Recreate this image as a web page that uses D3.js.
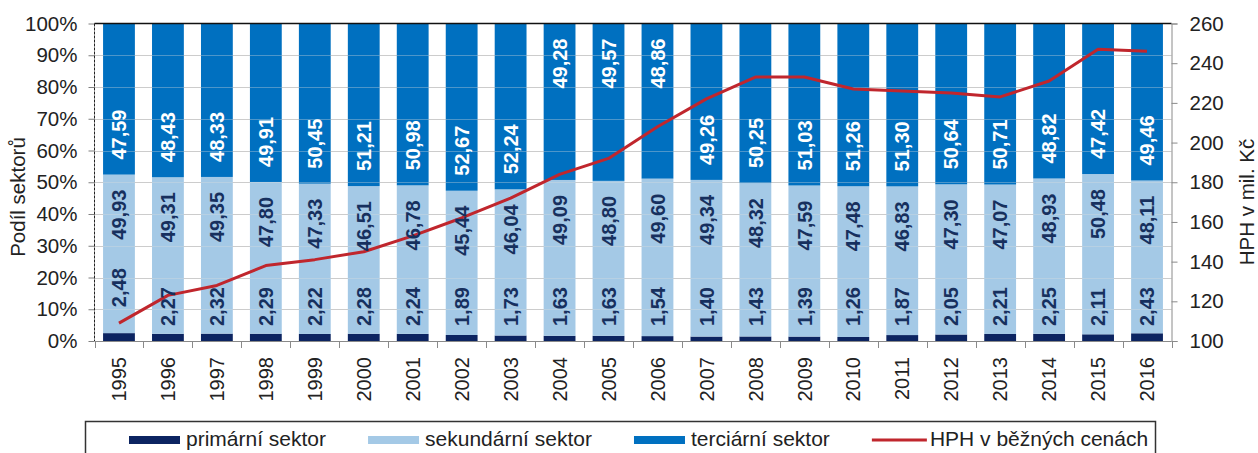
<!DOCTYPE html>
<html>
<head>
<meta charset="utf-8">
<script src="https://cdn.jsdelivr.net/npm/d3@7"></script>
<style>
  body { margin: 0; background: #fff; }
  svg { display: block; font-family: "Liberation Sans", Arial, sans-serif; }
</style>
</head>
<body>
<svg id="chart" width="1258" height="453"></svg>
<script>
const years = ['1995', '1996', '1997', '1998', '1999', '2000', '2001', '2002', '2003', '2004', '2005',
  '2006', '2007', '2008', '2009', '2010', '2011', '2012', '2013', '2014', '2015', '2016'];
const primary = [2.48, 2.27, 2.32, 2.29, 2.22, 2.28, 2.24, 1.89, 1.73, 1.63, 1.63,
  1.54, 1.40, 1.43, 1.39, 1.26, 1.87, 2.05, 2.21, 2.25, 2.11, 2.43];
const secondary = [49.93, 49.31, 49.35, 47.80, 47.33, 46.51, 46.78, 45.44, 46.04, 49.09, 48.80,
  49.60, 49.34, 48.32, 47.59, 47.48, 46.83, 47.30, 47.07, 48.93, 50.48, 48.11];
const tertiary = [47.59, 48.43, 48.33, 49.91, 50.45, 51.21, 50.98, 52.67, 52.24, 49.28, 49.57,
  48.86, 49.26, 50.25, 51.03, 51.26, 51.30, 50.64, 50.71, 48.82, 47.42, 49.46];
const hph = [109, 123, 128, 138, 141, 145, 153, 162, 172, 184, 192,
  208, 222, 233, 233, 227, 226, 225, 223, 231, 247, 246];
const leftTicks = [0, 10, 20, 30, 40, 50, 60, 70, 80, 90, 100];
const rightTicks = [100, 120, 140, 160, 180, 200, 220, 240, 260];
const seriesNames = ['primární sektor', 'sekundární sektor', 'terciární sektor'];
const lineName = 'HPH v běžných cenách';

const colors = ['#0c2461', '#a4c9e6', '#0070c0'];
const labelColors = ['#17305e', '#17305e', '#ffffff'];
const lineColor = '#c0262d';

const svg = d3.select('#chart');
const plotLeft = 94.5;
const plotRight = 1171.5;
const plotTop = 23.5;
const plotBottom = 341;

const x = d3.scaleBand().domain(years).range([plotLeft, plotRight]).paddingInner(0.35).paddingOuter(0.175);
const y = d3.scaleLinear().domain([0, 100]).range([plotBottom, plotTop]);
const y2 = d3.scaleLinear().domain([100, 260]).range([plotBottom, plotTop]);

const rows = years.map((yr, i) => ({
  year: yr, primary: primary[i], secondary: secondary[i], tertiary: tertiary[i], hph: hph[i],
}));
const keys = ['primary', 'secondary', 'tertiary'];
const stack = d3.stack().keys(keys)(rows);

// gridlines behind bars
svg.append('g')
  .selectAll('line')
  .data(leftTicks.slice(1, -1))
  .enter()
  .append('line')
  .attr('x1', plotLeft).attr('x2', plotRight)
  .attr('y1', d => Math.round(y(d)) + 0.5).attr('y2', d => Math.round(y(d)) + 0.5)
  .attr('stroke', '#c4c4c4');

// bars
svg.append('g')
  .selectAll('g')
  .data(stack)
  .enter()
  .append('g')
  .attr('fill', (d, i) => colors[i])
  .selectAll('rect')
  .data(d => d)
  .enter()
  .append('rect')
  .attr('x', d => x(d.data.year))
  .attr('width', x.bandwidth())
  .attr('y', d => y(d[1]))
  .attr('height', d => y(d[0]) - y(d[1]));

// faint gridlines showing through the bars
svg.append('g')
  .selectAll('line')
  .data(leftTicks.slice(1, -1))
  .enter()
  .append('line')
  .attr('x1', plotLeft).attr('x2', plotRight)
  .attr('y1', d => Math.round(y(d)) + 0.5).attr('y2', d => Math.round(y(d)) + 0.5)
  .attr('stroke', '#dcdcdc')
  .attr('stroke-opacity', 0.35);

// HPH line
const line = d3.line()
  .x(d => x(d.year) + x.bandwidth() / 2)
  .y(d => y2(d.hph));
svg.append('path')
  .datum(rows)
  .attr('d', line)
  .attr('fill', 'none')
  .attr('stroke', lineColor)
  .attr('stroke-width', 3)
  .attr('stroke-linejoin', 'round');

// value labels, rotated, placed off the segment edge
const fmt = v => d3.format('.2f')(v).replace('.', ',');
const pad = 15;
const labelLen = 50;
const labels = svg.append('g')
  .style('font-size', '20px')
  .style('font-weight', 'bold');
stack.forEach((layer, k) => {
  layer.forEach((d) => {
    const cx = x(d.data.year) + x.bandwidth() / 2;
    const lineY = y2(d.data.hph);
    let pos;
    let anchor;
    if (k === 0) {
      pos = y(d[0]) - pad;
      anchor = 'start';
      if (lineY > pos - 10) pos = lineY - pad - 1;
    } else if (k === 1) {
      pos = y(d[1]) + pad;
      anchor = 'end';
    } else {
      pos = y(d[0]) - pad;
      anchor = 'start';
      if (lineY > pos - labelLen && lineY < y(d[0])) {
        pos = y(d[1]) + pad;
        anchor = 'end';
      }
    }
    labels.append('text')
      .attr('transform', `translate(${cx},${pos}) rotate(-90)`)
      .attr('dy', '0.36em')
      .attr('text-anchor', anchor)
      .attr('fill', labelColors[k])
      .text(fmt(d[1] - d[0]));
  });
});

// left axis
const yAxis = svg.append('g')
  .attr('transform', `translate(${plotLeft},0)`)
  .call(d3.axisLeft(y).tickValues(leftTicks).tickSize(6).tickPadding(11).tickFormat(d => `${d}%`));
yAxis.select('.domain').remove();
yAxis.selectAll('line').attr('stroke', '#7f7f7f');
yAxis.selectAll('text').style('font-size', '20.5px').attr('fill', '#222');
svg.append('line')
  .attr('x1', plotLeft).attr('x2', plotLeft).attr('y1', plotTop).attr('y2', plotBottom)
  .attr('stroke', '#222').attr('stroke-dasharray', '3,1');

// right axis
const yAxis2 = svg.append('g')
  .attr('transform', `translate(${plotRight},0)`)
  .call(d3.axisRight(y2).tickValues(rightTicks).tickSize(6).tickPadding(12));
yAxis2.select('.domain').attr('stroke', '#8a8a8a');
yAxis2.selectAll('line').attr('stroke', '#8a8a8a');
yAxis2.selectAll('text').style('font-size', '20.5px').attr('fill', '#222');

// top border
svg.append('line')
  .attr('x1', plotLeft).attr('x2', plotRight).attr('y1', plotTop).attr('y2', plotTop)
  .attr('stroke', '#111').attr('stroke-width', 1.5);

// x axis
const xAxis = svg.append('g');
xAxis.append('line')
  .attr('x1', plotLeft).attr('x2', plotRight).attr('y1', plotBottom + 0.5).attr('y2', plotBottom + 0.5)
  .attr('stroke', '#8a8a8a');
xAxis.selectAll('.tick')
  .data(d3.range(years.length + 1))
  .enter()
  .append('line')
  .attr('x1', i => Math.round(plotLeft + i * x.step()) + 0.5)
  .attr('x2', i => Math.round(plotLeft + i * x.step()) + 0.5)
  .attr('y1', plotBottom).attr('y2', plotBottom + 7)
  .attr('stroke', '#8a8a8a');
xAxis.selectAll('text')
  .data(years)
  .enter()
  .append('text')
  .attr('transform', d => `translate(${x(d) + x.bandwidth() / 2},357) rotate(-90)`)
  .attr('dy', '0.36em')
  .attr('text-anchor', 'end')
  .style('font-size', '20px')
  .attr('fill', '#222')
  .text(d => d);

// axis titles
svg.append('text')
  .attr('transform', 'translate(18,197) rotate(-90)')
  .attr('dy', '0.36em')
  .attr('text-anchor', 'middle')
  .style('font-size', '20.5px')
  .attr('fill', '#222')
  .text('Podíl sektorů');
svg.append('text')
  .attr('transform', 'translate(1247,202) rotate(-90)')
  .attr('dy', '0.36em')
  .attr('text-anchor', 'middle')
  .style('font-size', '20.5px')
  .attr('fill', '#222')
  .text('HPH v mil. Kč');

// legend
const legend = svg.append('g');
legend.append('rect')
  .attr('x', 85.5).attr('y', 421.5)
  .attr('width', 1070).attr('height', 50)
  .attr('fill', 'none')
  .attr('stroke', '#333')
  .attr('stroke-width', 1.5);
let lx = 129;
const items = seriesNames.map((n, i) => ({ name: n, color: colors[i], kind: 'rect' }))
  .concat([{ name: lineName, color: lineColor, kind: 'line' }]);
items.forEach((it) => {
  if (it.kind === 'rect') {
    legend.append('rect')
      .attr('x', lx).attr('y', 436).attr('width', 51).attr('height', 8)
      .attr('fill', it.color);
  } else {
    legend.append('line')
      .attr('x1', lx).attr('x2', lx + 55).attr('y1', 440).attr('y2', 440)
      .attr('stroke', it.color).attr('stroke-width', 3);
  }
  const tx = lx + (it.kind === 'rect' ? 57 : 58);
  const t = legend.append('text')
    .attr('x', tx).attr('y', 446)
    .style('font-size', '21px')
    .attr('fill', '#222')
    .text(it.name);
  lx = tx + t.node().getComputedTextLength() + 42;
});
</script>
</body>
</html>
